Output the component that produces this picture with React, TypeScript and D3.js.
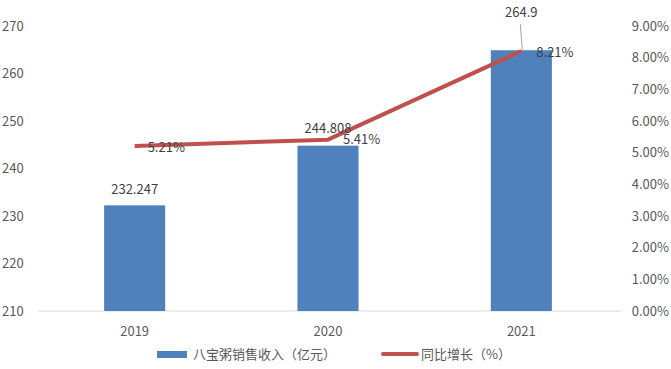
import * as d3 from "d3";

const years = ["2019", "2020", "2021"];
const revenue = [232.247, 244.808, 264.9];
const growth = [5.21, 5.41, 8.21];
const revenueLabels = ["232.247", "244.808", "264.9"];
const growthLabels = ["5.21%", "5.41%", "8.21%"];
const leftTicks = [210, 220, 230, 240, 250, 260, 270];
const rightTicks = [0, 1, 2, 3, 4, 5, 6, 7, 8, 9];

const W = 671;
const H = 369;
const m = { left: 38, right: 53, top: 26, bottom: 58 };
const font = "'Microsoft YaHei', 'Noto Sans CJK SC', 'DejaVu Sans', sans-serif";

export default function App() {
  const x = d3.scaleBand().domain(years).range([m.left, W - m.right]).paddingInner(0.684).paddingOuter(0.342);
  const yL = d3.scaleLinear().domain([210, 270]).range([H - m.bottom, m.top]);
  const yR = d3.scaleLinear().domain([0, 9]).range([H - m.bottom, m.top]);
  const cx = (d: string) => (x(d) ?? 0) + x.bandwidth() / 2;
  const line = d3.line<number>().x((_, i) => cx(years[i])).y((d) => yR(d));
  const base = yL(210);
  // label offsets (px) relative to the mark, tuned per point
  const barLabelDy = [-16, -17, -38];
  const growthDy = [1, 0, 1];

  return (
    <svg width={W} height={H} style={{ position: "absolute", left: 0, top: 0, background: "#fff" }} fontFamily={font}>
      <line x1={m.left} x2={W - m.right + 3} y1={base} y2={base} stroke="#d9d9d9" />
      {leftTicks.map((t) => (
        <text key={t} x={2} y={yL(t)} dy="0.35em" fontSize={13} fill="#595959">{t}</text>
      ))}
      {rightTicks.map((t) => (
        <text key={t} x={669} y={yR(t)} dy="0.35em" fontSize={13} fill="#595959" textAnchor="end">{t.toFixed(2)}%</text>
      ))}
      {years.map((d) => (
        <text key={d} x={cx(d)} y={base + 20} dy="0.35em" fontSize={13} fill="#595959" textAnchor="middle">{d}</text>
      ))}
      {revenue.map((v, i) => (
        <rect key={i} x={x(years[i])} y={yL(v)} width={x.bandwidth()} height={base - yL(v)} fill="#4f81bd" />
      ))}
      <path d={line(growth) ?? ""} fill="none" stroke="#c0504d" strokeWidth={4} strokeLinejoin="round" />
      {/* leader line for the 2021 label */}
      <line x1={cx(years[2]) - 1} y1={yL(revenue[2]) - 26} x2={cx(years[2]) + 1} y2={yR(growth[2])} stroke="#a6a6a6" />
      {revenue.map((v, i) => (
        <text key={i} x={cx(years[i])} y={yL(v) + barLabelDy[i]} dy="0.35em" fontSize={13} fill="#404040" textAnchor="middle">{revenueLabels[i]}</text>
      ))}
      {growth.map((g, i) => (
        <text key={i} x={cx(years[i]) + (i === 0 ? 13 : 15)} y={yR(g) + growthDy[i]} dy="0.35em" fontSize={13} fill="#404040">{growthLabels[i]}</text>
      ))}
      {/* legend */}
      <rect x={157} y={351} width={30} height={7} fill="#4f81bd" />
      <text x={193} y={354} dy="0.35em" fontSize={13} fill="#595959">八宝粥销售收入（亿元）</text>
      <line x1={383} x2={417} y1={354} y2={354} stroke="#c0504d" strokeWidth={4} strokeLinecap="round" />
      <text x={421} y={354} dy="0.35em" fontSize={13} fill="#595959">同比增长（%）</text>
    </svg>
  );
}
